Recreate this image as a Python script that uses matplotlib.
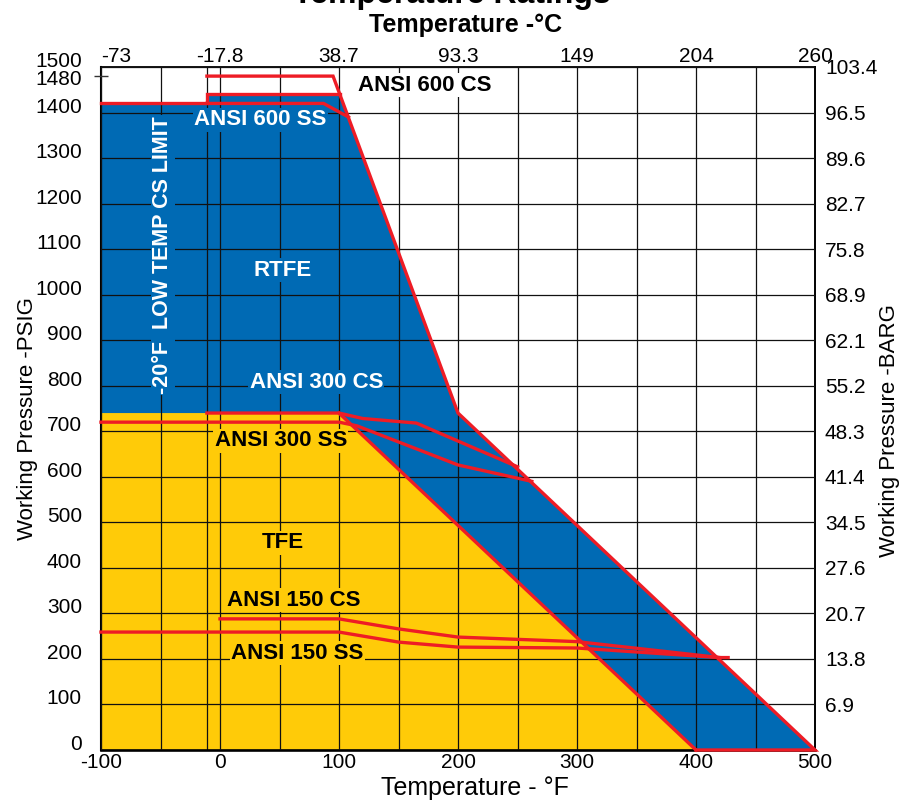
import matplotlib
matplotlib.use('Agg')
import matplotlib.pyplot as plt

plt.rcParams['font.family'] = ['Liberation Sans', 'DejaVu Sans']

# ---------------- data ----------------
temp_F_ticks = [-100, 0, 100, 200, 300, 400, 500]
temp_F_minor = [-50, 50, 150, 250, 350, 450]
temp_C_labels = ['-73', '-17.8', '38.7', '93.3', '149', '204', '260']
psi_ticks = [0, 100, 200, 300, 400, 500, 600, 700, 800, 900, 1000, 1100, 1200, 1300, 1400, 1500]
psi_extra_tick = 1480
barg_ticks = [100, 200, 300, 400, 500, 600, 700, 800, 900, 1000, 1100, 1200, 1300, 1400, 1500]
barg_labels = ['6.9', '13.8', '20.7', '27.6', '34.5', '41.4', '48.3', '55.2', '62.1',
               '68.9', '75.8', '82.7', '89.6', '96.5', '103.4']

low_temp_limit_F = -11

rtfe_x = [-100, -100, -11, -11, 101, 200, 500]
rtfe_y = [0, 1420, 1420, 1440, 1440, 740, 0]
tfe_x = [-100, -100, 100, 400]
tfe_y = [0, 740, 740, 0]

rtfe_top_x = [-100, -11, -11, 101]
rtfe_top_y = [1420, 1420, 1440, 1440]
ansi600cs_x = [-11, 95, 200, 500, 400]
ansi600cs_y = [1480, 1480, 740, 0, 0]
ansi600ss_x = [-11, 87, 108]
ansi600ss_y = [1420, 1420, 1390]
ansi300cs_x = [-11, 100, 120, 165, 250]
ansi300cs_y = [740, 740, 728, 718, 622]
tfe_edge_x = [100, 400]
tfe_edge_y = [740, 0]
ansi300ss_x = [-100, 100, 115, 200, 262]
ansi300ss_y = [720, 720, 712, 626, 590]
ansi150cs_x = [0, 100, 150, 200, 300, 420, 427]
ansi150cs_y = [288, 288, 266, 248, 238, 203, 203]
ansi150ss_x = [-100, 100, 150, 200, 300, 420]
ansi150ss_y = [259, 259, 237, 226, 224, 203]

# ---------------- style ----------------
BLUE = '#006AB4'
YELLOW = '#FFCB08'
RED = '#EE1C25'
GRID = '#111111'

fig = plt.figure(figsize=(9.13, 8.0), dpi=100)
ax = fig.add_axes([101 / 913, 50 / 800, 714 / 913, 683 / 800])
ax.set_xlim(-100, 500)
ax.set_ylim(0, 1500)
ax.set_axisbelow(False)

ax.fill(rtfe_x, rtfe_y, color=BLUE, lw=0, zorder=1)
ax.fill(tfe_x, tfe_y, color=YELLOW, lw=0, zorder=1.1)

# grid
ax.set_xticks(temp_F_ticks)
ax.set_xticks(temp_F_minor, minor=True)
ax.set_yticks(psi_ticks)
ax.set_yticks([psi_extra_tick], minor=True)
ax.set_yticklabels([str(v) for v in psi_ticks])
ax.set_xticklabels([str(v) for v in temp_F_ticks])
ax.xaxis.grid(True, which='both', color=GRID, lw=0.9)
ax.yaxis.grid(True, which='major', color=GRID, lw=0.9)
ax.axvline(low_temp_limit_F, color=GRID, lw=0.9, zorder=2.5)

ax.tick_params(axis='x', which='both', length=0, pad=2.5, labelsize=15)
ax.tick_params(axis='y', which='major', length=0, pad=13.7, labelsize=15)
ax.tick_params(axis='y', which='minor', length=9.5, direction='inout', width=1.0, color='#333333')
plt.setp(ax.get_yticklabels(), va='baseline')

ax.annotate(str(psi_extra_tick), xy=(0, psi_extra_tick), xycoords=('axes fraction', 'data'),
            xytext=(-13.7, -2.8), textcoords='offset points', ha='right', va='center', fontsize=15)

for s in ['left']:
    ax.spines[s].set_linewidth(1.5)
ax.spines['bottom'].set_linewidth(1.9)
ax.spines['top'].set_linewidth(1.3)
ax.spines['right'].set_linewidth(1.4)

# red lines
lw = 2.4
for xs, ys in [(rtfe_top_x, rtfe_top_y), (ansi600cs_x, ansi600cs_y), (ansi600ss_x, ansi600ss_y),
               (ansi300cs_x, ansi300cs_y), (tfe_edge_x, tfe_edge_y), (ansi300ss_x, ansi300ss_y),
               (ansi150cs_x, ansi150cs_y), (ansi150ss_x, ansi150ss_y)]:
    ax.plot(xs, ys, color=RED, lw=lw, zorder=3, solid_joinstyle='miter', clip_on=False)

# in-chart labels
def lab(x, y, s, color, bg, rot=0, size=16):
    ax.text(x, y, s, color=color, fontsize=size, fontweight='bold', ha='center', va='center',
            rotation=rot, zorder=4,
            bbox=dict(facecolor=bg, edgecolor='none', pad=1.0))

lab(172, 1460, 'ANSI 600 CS', 'black', 'white')
lab(34, 1384, 'ANSI 600 SS', 'white', BLUE)
lab(53, 1054, 'RTFE', 'white', BLUE)
lab(81, 808, 'ANSI 300 CS', 'white', BLUE)
lab(51, 679, 'ANSI 300 SS', 'black', YELLOW)
lab(53, 455, 'TFE', 'black', YELLOW)
lab(62, 329, 'ANSI 150 CS', 'black', YELLOW)
lab(65, 213, 'ANSI 150 SS', 'black', YELLOW)
lab(-48, 1087, '-20°F  LOW TEMP CS LIMIT', 'white', BLUE, rot=90, size=15.5)

# top axis (Celsius)
axt = ax.twiny()
axt.set_xlim(ax.get_xlim())
axt.set_xticks(temp_F_ticks)
axt.set_xticklabels(temp_C_labels)
axt.tick_params(axis='x', length=0, pad=0.5, labelsize=15)
tl = axt.get_xticklabels()
tl[0].set_ha('left')
for s in axt.spines.values():
    s.set_visible(False)

# right axis (BARG)
axr = ax.twinx()
axr.set_ylim(ax.get_ylim())
axr.set_yticks(barg_ticks)
axr.set_yticklabels(barg_labels)
axr.tick_params(axis='y', length=0, pad=7.2, labelsize=15)
for s in axr.spines.values():
    s.set_visible(False)

# titles / axis labels
fig.text(452 / 913, 1 - 3 / 800, 'Temperature Ratings', ha='center', va='baseline',
         fontsize=23, fontweight='bold')
fig.text(466 / 913, 1 - 32 / 800, 'Temperature -°C', ha='center', va='baseline',
         fontsize=18, fontweight='bold')
fig.text(475 / 913, 5 / 800, 'Temperature - °F', ha='center', va='baseline', fontsize=18)
fig.text(28 / 913, 1 - 419 / 800, 'Working Pressure -PSIG', rotation=90, ha='center',
         va='center', fontsize=16)
fig.text(889 / 913, 1 - 431 / 800, 'Working Pressure -BARG', rotation=90, ha='center',
         va='center', fontsize=16)

fig.savefig('out.png', dpi=100)
